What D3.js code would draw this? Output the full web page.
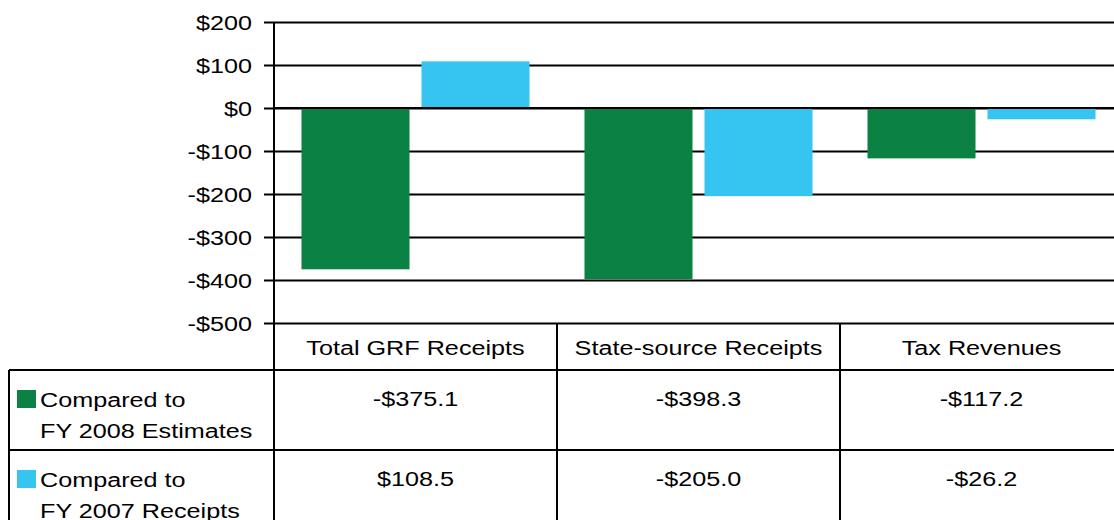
<!DOCTYPE html>
<html>
<head>
<meta charset="utf-8">
<script src="https://cdn.jsdelivr.net/npm/d3@7"></script>
<style>
  html, body { margin: 0; padding: 0; background: #fff; }
  svg { display: block; }
  text { font-family: "Liberation Sans", Arial, sans-serif; fill: #000; }
</style>
</head>
<body>
<svg id="chart" width="1114" height="520"></svg>
<script>
const categories = ["Total GRF Receipts", "State-source Receipts", "Tax Revenues"];
const seriesNames = ["Compared to FY 2008 Estimates", "Compared to FY 2007 Receipts"];
const legendLines = [["Compared to", "FY 2008 Estimates"], ["Compared to", "FY 2007 Receipts"]];
const vsEstimates = [-375.1, -398.3, -117.2];
const vsPriorYear = [108.5, -205.0, -26.2];
const tickValues = [200, 100, 0, -100, -200, -300, -400, -500];
const colors = ["#0b8243", "#35c5f0"];

const series = [vsEstimates, vsPriorYear];
const fmtVal = v => (v < 0 ? "-$" : "$") + Math.abs(v).toFixed(1);
const fmtTick = v => (v < 0 ? "-$" : "$") + Math.abs(v);

const svg = d3.select("#chart");
const W = 1114, H = 520;
const axisX = 274, plotRight = 1123;
const y = d3.scaleLinear().domain([-500, 200]).range([323, 22]);
const x0 = d3.scaleBand().domain(categories).range([axisX, plotRight]).padding(0);
const x1 = d3.scaleBand().domain(d3.range(series.length)).range([0, x0.bandwidth()])
  .paddingInner(0.1).paddingOuter(0.229);

const FS = 21;
const SX = 1.2; // horizontal stretch of the reference typography
const place = (sel, xf, yf) => sel.attr("x", 0).attr("y", 0)
  .attr("transform", (d, i) => `translate(${typeof xf === "function" ? xf(d, i) : xf},${typeof yf === "function" ? yf(d, i) : yf}) scale(${SX},1)`);

// gridlines + ticks
const yAxis = d3.axisLeft(y).tickValues(tickValues).tickFormat(fmtTick)
  .tickSize(-(plotRight - axisX));
const gAxis = svg.append("g").attr("transform", `translate(${axisX},0)`).call(yAxis);
gAxis.select(".domain").remove();
gAxis.selectAll(".tick line").attr("stroke", "#000").attr("stroke-width", 2)
  .attr("x1", -10);
gAxis.selectAll(".tick text").attr("font-size", FS).attr("dy", "0.35em")
  .attr("font-family", "Liberation Sans, Arial, sans-serif")
  .call(place, -22, 0);

// bars
const groups = svg.append("g").selectAll("g").data(categories).join("g")
  .attr("transform", d => `translate(${x0(d)},0)`);
groups.selectAll("rect").data((c, ci) => series.map((s, si) => ({si, v: s[ci]})))
  .join("rect")
  .attr("x", d => x1(d.si))
  .attr("width", x1.bandwidth())
  .attr("y", d => y(Math.max(0, d.v)))
  .attr("height", d => Math.abs(y(d.v) - y(0)))
  .attr("fill", d => colors[d.si]);

// zero line on top
svg.append("line").attr("x1", axisX).attr("x2", plotRight)
  .attr("y1", y(0)).attr("y2", y(0)).attr("stroke", "#000").attr("stroke-width", 2);

// y axis vertical line
const tableTop = y(-500);
const headerBottom = 370;
const rowH = 80;
svg.append("line").attr("x1", axisX).attr("x2", axisX)
  .attr("y1", y(200)).attr("y2", H + 10).attr("stroke", "#000").attr("stroke-width", 2);

// data table
const tbl = svg.append("g");
const lineAttr = sel => sel.attr("stroke", "#000").attr("stroke-width", 2);
[headerBottom, headerBottom + rowH].forEach(yy => {
  tbl.append("line").attr("x1", 9).attr("x2", plotRight).attr("y1", yy).attr("y2", yy).call(lineAttr);
});
tbl.append("line").attr("x1", 9).attr("x2", 9).attr("y1", headerBottom).attr("y2", H + 10).call(lineAttr);
categories.forEach(c => {
  const xx = x0(c) + x0.bandwidth();
  tbl.append("line").attr("x1", xx).attr("x2", xx).attr("y1", tableTop).attr("y2", H + 10).call(lineAttr);
});
// header labels
tbl.selectAll("text.hdr").data(categories).join("text").attr("class", "hdr")
  .attr("text-anchor", "middle").attr("font-size", FS).text(d => d)
  .call(place, d => x0(d) + x0.bandwidth() / 2, (tableTop + headerBottom) / 2 + 8);
// values + legend
series.forEach((s, si) => {
  const rowTop = headerBottom + si * rowH;
  tbl.selectAll(`text.v${si}`).data(s).join("text").attr("class", `v${si}`)
    .attr("text-anchor", "middle").attr("font-size", FS).text(d => fmtVal(d))
    .call(place, (d, i) => x0(categories[i]) + x0.bandwidth() / 2, rowTop + 36);
  tbl.append("rect").attr("x", 17).attr("y", rowTop + 20).attr("width", 19).attr("height", 18)
    .attr("fill", colors[si]);
  legendLines[si].forEach((ln, li) => {
    tbl.append("text").attr("font-size", FS).text(ln)
      .call(place, 40, rowTop + 37 + li * 31);
  });
});
</script>
</body>
</html>
